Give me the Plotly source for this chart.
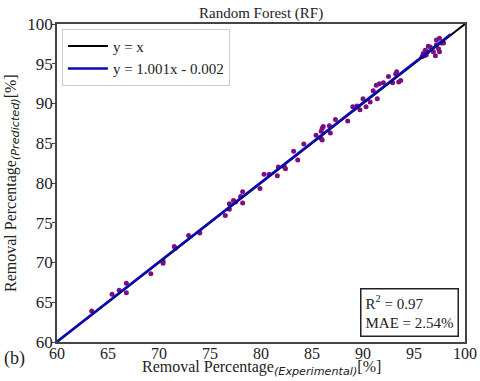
import plotly.graph_objects as go

x_exp = [63.4, 65.4, 66.1, 66.8, 66.8, 69.2, 70.4, 70.4, 71.5, 71.6,
         72.9, 74.0, 76.5, 76.9, 76.9, 77.3, 77.5, 78.0, 78.2, 78.2,
         79.9, 80.3, 80.8, 81.6, 81.7, 82.3, 82.4, 83.2, 83.6, 84.2,
         85.4, 85.9, 86.0, 86.1, 85.9, 86.0, 86.8, 86.7, 87.3, 88.5,
         89.0, 89.4, 89.7, 90.0, 90.3, 90.7, 91.0, 91.4, 91.3, 91.6,
         92.0, 92.5, 92.9, 93.3, 93.5, 93.7, 93.2, 95.8, 95.9, 96.1,
         96.2, 96.4, 96.6, 96.9, 97.1, 97.2, 97.2, 97.4, 97.5, 97.5,
         97.7, 97.9, 96.0, 96.3]
y_pred = [63.9, 66.0, 66.5, 67.4, 66.2, 68.6, 70.2, 69.9, 72.0, 71.8,
          73.4, 73.7, 75.9, 76.7, 77.4, 77.8, 77.6, 78.3, 78.9, 77.5,
          79.3, 81.1, 81.1, 80.9, 82.0, 82.0, 81.8, 84.0, 82.9, 84.9,
          86.0, 86.5, 86.9, 87.1, 85.6, 85.4, 86.3, 87.2, 88.0, 87.8,
          89.6, 89.7, 89.2, 90.6, 89.6, 90.2, 91.6, 90.6, 92.3, 92.5,
          92.6, 93.4, 92.6, 94.0, 92.7, 92.9, 93.7, 95.9, 96.3, 96.7,
          96.1, 97.2, 97.1, 96.5, 96.0, 98.0, 97.4, 96.9, 98.2, 96.5,
          97.6, 97.6, 96.0, 96.5]

# lignes de référence
ident_x = [60, 100]
fit_x = [60, 98.6]
pente, ordonnee = 1.001, -0.002
tick_vals = [60, 65, 70, 75, 80, 85, 90, 95, 100]

SERIF = "Liberation Serif"
SANS = "DejaVu Sans"

fig = go.Figure()

# points d'abord (sous les lignes, comme matplotlib)
fig.add_trace(go.Scatter(x=x_exp, y=y_pred, mode="markers",
                         marker=dict(color="#7a1080", size=5),
                         showlegend=False, hoverinfo="skip"))
fig.add_trace(go.Scatter(x=ident_x, y=ident_x, mode="lines", name="y = x",
                         line=dict(color="black", width=2)))
fig.add_trace(go.Scatter(x=fit_x, y=[pente * v + ordonnee for v in fit_x],
                         mode="lines", name="y = 1.001x - 0.002",
                         line=dict(color="#0a0ab4", width=2.5)))

axe = dict(range=[60, 100], tickvals=tick_vals, showgrid=False, zeroline=False,
           showline=True, linecolor="#444", linewidth=1.5, mirror=True,
           tickcolor="#444", automargin=False,
           tickfont=dict(family=SERIF, size=17, color="#222"))

sub = "<sub><span style='font-family:" + SANS + "'><i>({})</i></span></sub>"

fig.update_layout(
    width=480, height=381,
    margin=dict(l=57, r=15, t=24, b=39),
    paper_bgcolor="white", plot_bgcolor="white",
    font=dict(family=SERIF, color="#222"),
    xaxis=dict(axe, ticks="", ticklen=0, ticklabelstandoff=-4,
               tickfont=dict(family=SERIF, size=16, color="#222")),
    yaxis=dict(axe, ticks="outside", ticklen=3, ticklabelstandoff=-4),
    legend=dict(x=0.012, y=0.985, xanchor="left", yanchor="top",
                bgcolor="white", bordercolor="#cccccc", borderwidth=1,
                font=dict(family=SERIF, size=15, color="#222"),
                itemwidth=40, tracegroupgap=0),
    annotations=[
        dict(text="Random Forest (RF)", xref="paper", yref="paper", x=0.5, y=1,
             yanchor="bottom", yshift=0, showarrow=False,
             font=dict(family=SERIF, size=15, color="#222")),
        dict(text="Removal Percentage" + sub.format("Experimental") + "[%]",
             xref="paper", yref="paper", x=0.5, y=0, yanchor="middle", yshift=-26,
             showarrow=False, font=dict(family=SERIF, size=16, color="#222")),
        dict(text="Removal Percentage" + sub.format("Predicted") + "[%]",
             xref="paper", yref="paper", x=0, y=0.5, xanchor="right", xshift=-33,
             textangle=-90, showarrow=False,
             font=dict(family=SERIF, size=16, color="#222")),
        dict(text="R<sup>2</sup> = 0.97<br>MAE = 2.54%", xref="paper", yref="paper",
             x=0.985, y=0.015, xanchor="right", yanchor="bottom", align="left",
             showarrow=False, bordercolor="#222", borderwidth=1.5, borderpad=4,
             bgcolor="white", font=dict(family=SERIF, size=15, color="#222")),
        dict(text="(b)", xref="paper", yref="paper", x=0, y=0, xshift=-55,
             yshift=-16, xanchor="left", yanchor="middle", showarrow=False,
             font=dict(family=SERIF, size=18, color="#222")),
    ],
)

# le body html a 8 px de marge par défaut : on l'enlève pour coller au cadre
fig.write_html("out.html", config={"displayModeBar": False},
               post_script="document.body.style.margin='0';")
